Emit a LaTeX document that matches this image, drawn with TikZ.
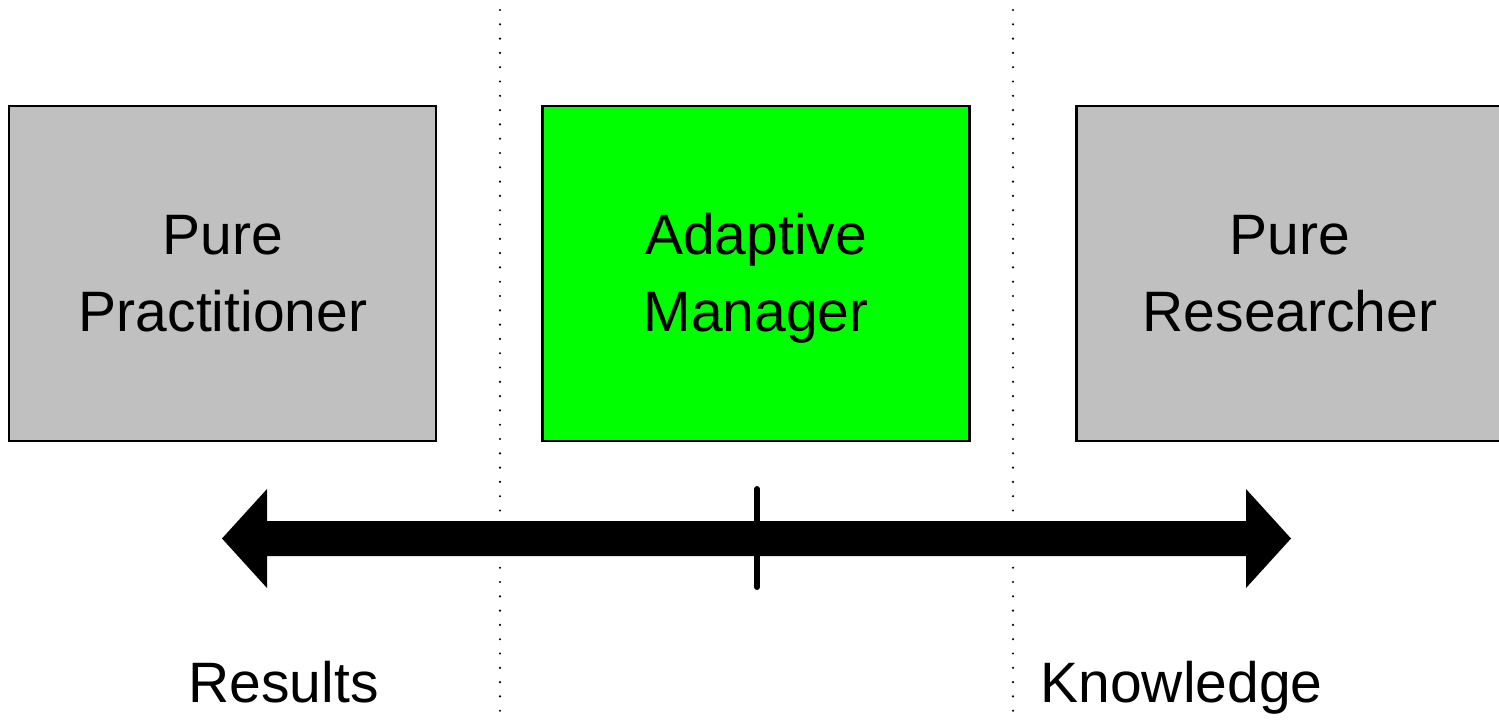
\documentclass[tikz,border=0pt]{standalone}
\usepackage{fontspec}
\setmainfont{Liberation Sans}
\begin{document}
\begin{tikzpicture}[x=1pt,y=-1pt,
  box/.style={draw=black, line width=2.5pt, minimum width=427pt, minimum height=335pt,
    inner sep=0pt},
  boxtext/.style={inner sep=0pt, align=center, font=\fontsize{57}{77}\selectfont},
  grey/.style={fill={rgb,255:red,192;green,192;blue,192}},
  green/.style={fill={rgb,255:red,0;green,255;blue,0}},
  sep/.style={line width=2.4pt, line cap=round, dash pattern=on 0pt off 14.3pt},
  lbl/.style={font=\fontsize{57}{77}\selectfont, inner sep=0pt}]
\useasboundingbox (0,0) rectangle (1499,721);
\clip (0,0) rectangle (1499,721);
% dotted separators
\draw[sep] (500,10) -- (500,721);
\draw[sep] (1013,10) -- (1013,721);
% boxes
\node[box, grey]  (pp) at (222.5,273.5) {};
\node[box, green] (am) at (756,273.5) {};
\node[box, grey]  (pr) at (1290,273.5) {};
\node[boxtext] (ppt) at (223,278) {\strut Pure\\\strut Practitioner};
\node[boxtext] (amt) at (756,278) {\strut Adaptive\\\strut Manager};
\node[boxtext] (prt) at (1290,278) {\strut Pure\\\strut Researcher};
% double arrow
\fill[black] (222,538.5) -- (267,489) -- (267,521) -- (1246,521) -- (1246,489)
  -- (1291,538.5) -- (1246,588) -- (1246,556) -- (267,556) -- (267,588) -- cycle;
\coordinate (tt) at (757,489);
\coordinate (tb) at (757,587);
\draw[line width=6pt, line cap=round] (tt) -- (tb);
% labels
\node[lbl, anchor=base] (res) at (283.5,702) {Results};
\node[lbl, anchor=base] (kn) at (1181.5,702) {Knowledge};
\end{tikzpicture}
\end{document}
